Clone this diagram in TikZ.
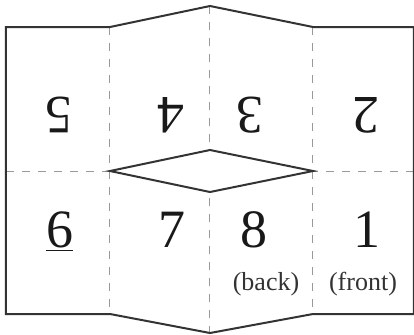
\documentclass[tikz,border=0pt]{standalone}
\usepackage{fontspec}
\setmainfont{Liberation Serif}
\usetikzlibrary{calc}

\begin{document}
\begin{tikzpicture}[x=0.5pt,y=-0.5pt,
  edge/.style={line width=1pt,draw=black!80,line join=miter},
  fold/.style={line width=0.5pt,draw=black!40,dash pattern=on 4pt off 4pt},
  page/.style={font=\fontsize{27}{30}\selectfont,inner sep=0pt,anchor=base,text=black!90},
  note/.style={font=\fontsize{13}{15}\selectfont,inner sep=0pt,anchor=base,text=black!80}]
\useasboundingbox (0,0) rectangle (414,334);

% Fold lines
\draw[fold] (110,27) -- (110,314);
\draw[fold] (210,6) -- (210,333);
\draw[fold] (313,27) -- (313,314);
\draw[fold] (6,171) -- (414,171);

% Cut in the middle, over the folds
\draw[edge,fill=white] (110,171) -- (210,150) -- (313,171) -- (210,192) -- cycle;

% Outer edge of the sheet
\draw[edge] (414,27) -- (313,27) -- (210,6) -- (110,27) -- (6,27) -- (6,314)
  -- (110,314) -- (210,333) -- (313,314) -- (414,314) -- cycle;

% Top row, upside down
\node[page,rotate=180] (p5) at (59,97) {5};
\node[page,rotate=180] (p4) at (171,97) {4};
\node[page,rotate=180] (p3) at (250,97) {3};
\node[page,rotate=180] (p2) at (366,97) {2};

% Bottom row
\node[page] (p6) at (60,247) {\underline{6}};
\node[page] (p7) at (172,247) {7};
\node[page] (p8) at (254,247) {8};
\node[page] (p1) at (367,247) {1};
\node[note] (back) at (266,290) {(back)};
\node[note] (front) at (363,290) {(front)};

\end{tikzpicture}
\end{document}
